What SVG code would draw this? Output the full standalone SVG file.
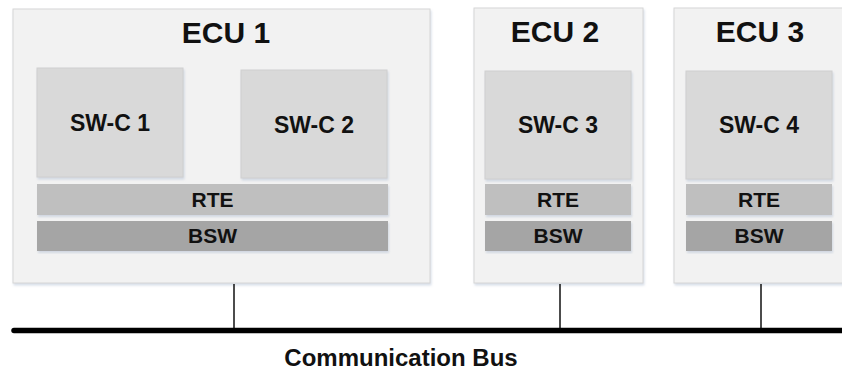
<svg xmlns="http://www.w3.org/2000/svg" width="842" height="372" viewBox="0 0 842 372">
<style>
text{font-family:"Liberation Sans",Arial,sans-serif;font-weight:bold;fill:#111;text-anchor:middle}
.ecu{fill:#f2f2f2;stroke:#d6d6d6;stroke-width:1;filter:url(#sh)}
.swc{fill:#d9d9d9;stroke:#cfcfcf;stroke-width:1;filter:url(#sh)}
.rte{fill:#bfbfbf;filter:url(#sh)}
.bsw{fill:#a5a5a5;filter:url(#sh)}
.t1{font-size:30px}
.t2{font-size:23px}
.t3{font-size:21px}
.wire{stroke:#111;stroke-width:1.5;fill:none}
.bus{stroke:#000;stroke-width:5.5;stroke-linecap:round;fill:none}
</style>
<defs>
<filter id="sh" x="-5%" y="-5%" width="110%" height="115%">
<feDropShadow dx="1" dy="2" stdDeviation="1.2" flood-color="#a9b8cf" flood-opacity="0.45"/>
</filter>
</defs>
<rect width="842" height="372" fill="#fff"/>
<g id="ecu1">
<rect class="ecu" x="13" y="9" width="417" height="274"/>
<text class="t1" x="226" y="43">ECU 1</text>
</g>
<g id="swc1">
<rect class="swc" x="37" y="68" width="146" height="109"/>
<text class="t2" x="110" y="131">SW-C 1</text>
</g>
<g id="swc2">
<rect class="swc" x="241" y="70" width="146" height="108"/>
<text class="t2" x="314" y="133">SW-C 2</text>
</g>
<g id="rte1">
<rect class="rte" x="37" y="184" width="351" height="31"/>
<text class="t3" x="212.5" y="207">RTE</text>
</g>
<g id="bsw1">
<rect class="bsw" x="37" y="221" width="351" height="30"/>
<text class="t3" x="212.5" y="243">BSW</text>
</g>
<g id="ecu2">
<rect class="ecu" x="474" y="8" width="169" height="275"/>
<text class="t1" x="555" y="42">ECU 2</text>
</g>
<g id="swc3">
<rect class="swc" x="485" y="71" width="146" height="108"/>
<text class="t2" x="558" y="133">SW-C 3</text>
</g>
<g id="rte2">
<rect class="rte" x="485" y="184" width="146" height="31"/>
<text class="t3" x="558" y="207">RTE</text>
</g>
<g id="bsw2">
<rect class="bsw" x="485" y="221" width="146" height="30"/>
<text class="t3" x="558" y="243">BSW</text>
</g>
<g id="ecu3">
<rect class="ecu" x="674" y="8" width="172" height="275"/>
<text class="t1" x="760" y="42">ECU 3</text>
</g>
<g id="swc4">
<rect class="swc" x="686" y="71" width="146" height="108"/>
<text class="t2" x="759" y="133">SW-C 4</text>
</g>
<g id="rte3">
<rect class="rte" x="686" y="184" width="146" height="31"/>
<text class="t3" x="759" y="207">RTE</text>
</g>
<g id="bsw3">
<rect class="bsw" x="686" y="221" width="146" height="30"/>
<text class="t3" x="759" y="243">BSW</text>
</g>
<g id="connectors">
<line class="wire" x1="234" y1="284" x2="234" y2="330"/>
<line class="wire" x1="560" y1="284" x2="560" y2="330"/>
<line class="wire" x1="761" y1="284" x2="761" y2="330"/>
<line class="bus" x1="14" y1="330.5" x2="845" y2="330.5"/>
</g>
<g id="bus-label">
<text font-size="24" x="401" y="366">Communication Bus</text>
</g>
</svg>
